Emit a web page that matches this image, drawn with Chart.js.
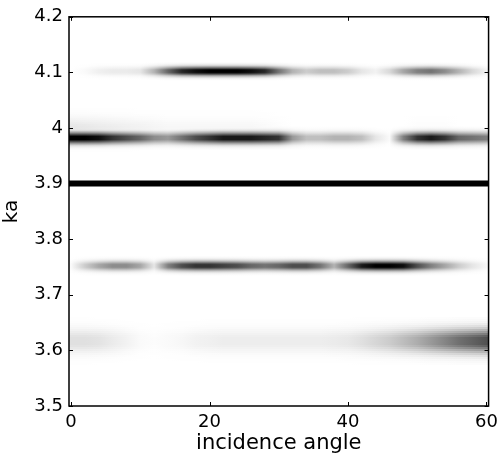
<!DOCTYPE html>
<html>
<head>
<meta charset="utf-8">
<script src="https://cdn.jsdelivr.net/npm/chart.js@4.4.0/dist/chart.umd.min.js"></script>
<style>
  html, body { margin: 0; padding: 0; background: #fff; }
  #wrap { width: 504px; height: 461px; }
</style>
</head>
<body>
<div id="wrap"><canvas id="chart"></canvas></div>
<script>
var angles = [0, 2, 4, 6, 8, 10, 12, 14, 16, 18, 20, 22, 24, 26, 28, 30,
              32, 34, 36, 38, 40, 42, 44, 46, 48, 50, 52, 54, 56, 58, 60];
var xTicks = [0, 20, 40, 60];
var yTicks = [3.5, 3.6, 3.7, 3.8, 3.9, 4, 4.1, 4.2];

// ka position of each band
var kaLevels = [4.102, 3.982, 3.752, 3.617, 3.997];
var kaLine = 3.9;

// darkness (0 = white, 1 = black) along each band
var band410 = [0, 0.02, 0.06, 0.08, 0.08, 0.1, 0.3, 0.6, 0.85, 0.95, 1, 1, 1, 0.95, 0.85, 0.55,
               0.3, 0.2, 0.25, 0.25, 0.2, 0.1, 0.05, 0.15, 0.35, 0.5, 0.55, 0.45, 0.3, 0.15, 0.05];
var band398 = [1, 1, 0.95, 0.8, 0.7, 0.6, 0.45, 0.4, 0.55, 0.7, 0.8, 0.9, 0.9, 0.9, 0.85, 0.8,
               0.4, 0.25, 0.25, 0.3, 0.3, 0.25, 0.1, 0.02, 0.5, 0.8, 0.9, 0.8, 0.6, 0.55, 0.5];
var band375 = [0.02, 0.2, 0.35, 0.45, 0.45, 0.35, 0.1, 0.5, 0.7, 0.8, 0.8, 0.75, 0.7, 0.6, 0.55, 0.6,
               0.7, 0.7, 0.55, 0.3, 0.6, 0.9, 1, 1, 0.95, 0.7, 0.5, 0.35, 0.2, 0.1, 0.03];
var band362 = [0.12, 0.12, 0.11, 0.08, 0.05, 0.02, 0.01, 0.02, 0.03, 0.05, 0.06, 0.07, 0.07, 0.07, 0.07, 0.07,
               0.07, 0.07, 0.07, 0.08, 0.09, 0.12, 0.16, 0.2, 0.26, 0.32, 0.4, 0.48, 0.56, 0.62, 0.68];
// faint haze above the 3.98 band
var haze400 = [0.1, 0.09, 0.08, 0.07, 0.06, 0.05, 0.04, 0.03, 0.03, 0.03, 0.03, 0.03, 0.03, 0.03, 0.02, 0.01,
               0, 0, 0, 0, 0, 0, 0, 0, 0, 0.01, 0.01, 0.01, 0, 0, 0];

var X_MIN = -0.3, X_MAX = 60.3;

// gaussian cross-section built from nested strokes, widest first
var layers = [];
for (var k = 0; k < 12; k++)
{
    var h = 3 * (1 - k / 12);
    var m = Math.max(0, h - 0.125);
    layers.push({ h: h, f: Math.min(1, 1.1 * Math.exp(-m * m / 2)) });
}

function shade(d) {
    d = Math.max(0, Math.min(1, d));
    var g = Math.round(255 * (1 - d));
    return 'rgb(' + g + ',' + g + ',' + g + ')';
}

var bands = [
    { y: kaLevels[4], vals: haze400, sigma: 8 },
    { y: kaLevels[0], vals: band410, sigma: 3 },
    { y: kaLevels[1], vals: band398, sigma: 3.8 },
    { y: kaLevels[2], vals: band375, sigma: 3.2 },
    { y: kaLevels[3], vals: band362, sigma: 8 }
];

var datasets = [];

bands.forEach(function(b, bi) {
    var vals = b.vals;
    var pts = [{ x: X_MIN, y: b.y, v: vals[0] }];
    for (var i = 0; i < angles.length; i++)
    {
        pts.push({ x: angles[i], y: b.y, v: vals[i] });
    }
    pts.push({ x: X_MAX, y: b.y, v: vals[vals.length - 1] });

    layers.forEach(function(l, k) {
        datasets.push({
            data: pts,
            borderWidth: 2 * l.h * b.sigma,
            borderColor: function(ctx) {
                var chart = ctx.chart, xs = chart.scales.x;
                if (!chart.chartArea || !xs) return '#fff';
                var x0 = xs.getPixelForValue(X_MIN), x1 = xs.getPixelForValue(X_MAX);
                var g = chart.ctx.createLinearGradient(x0, 0, x1, 0);
                pts.forEach(function(p) {
                    var t = (xs.getPixelForValue(p.x) - x0) / (x1 - x0);
                    g.addColorStop(Math.max(0, Math.min(1, t)), shade(p.v * l.f));
                });
                return g;
            },
            pointRadius: 0,
            tension: 0,
            order: 1000 - bi * 20 - k,
            clip: 0
        });
    });
});

datasets.push({
    data: [{ x: X_MIN, y: kaLine }, { x: X_MAX, y: kaLine }],
    borderWidth: 6,
    borderColor: '#000',
    pointRadius: 0,
    order: 0,
    clip: 0
});

// overlapping strokes keep the darker value, like one intensity image
var blendPlugin = {
    id: 'blend',
    beforeDatasetsDraw: function(chart) {
        chart.ctx.save();
        chart.ctx.globalCompositeOperation = 'darken';
    },
    afterDatasetsDraw: function(chart) {
        chart.ctx.restore();
    }
};

var framePlugin = {
    id: 'frame',
    afterDatasetsDraw: function(chart) {
        var c = chart.ctx, a = chart.chartArea;
        var xs = chart.scales.x, ys = chart.scales.y;
        c.save();
        c.strokeStyle = '#000';
        c.lineWidth = 1.5;
        c.strokeRect(a.left, a.top, a.right - a.left, a.bottom - a.top);
        c.lineWidth = 1;
        c.beginPath();
        yTicks.forEach(function(v) {
            var p = Math.round(ys.getPixelForValue(v)) + 0.5;
            c.moveTo(a.left, p); c.lineTo(a.left + 4, p);
            c.moveTo(a.right, p); c.lineTo(a.right - 4, p);
        });
        xTicks.forEach(function(v) {
            var p = Math.round(xs.getPixelForValue(v)) + 0.5;
            c.moveTo(p, a.bottom); c.lineTo(p, a.bottom - 4);
            c.moveTo(p, a.top); c.lineTo(p, a.top + 4);
        });
        c.stroke();
        c.restore();
    }
};

var font = 'DejaVu Sans, sans-serif';

new Chart(
    document.getElementById('chart'),
    {
        type: 'line',
        data: { datasets: datasets },
        plugins: [blendPlugin, framePlugin],
        options: {
            responsive: true,
            maintainAspectRatio: false,
            animation: false,
            events: [],
            layout: { padding: { top: 14, right: 11, left: 0, bottom: 0 } },
            plugins: {
                legend: { display: false },
                tooltip: { enabled: false }
            },
            scales: {
                x: {
                    type: 'linear',
                    min: X_MIN,
                    max: X_MAX,
                    afterBuildTicks: function(s) { s.ticks = xTicks.map(function(v) { return { value: v }; }); },
                    afterFit: function(s) { s.height = 55; },
                    grid: { display: false, drawTicks: false },
                    border: { display: false },
                    ticks: {
                        padding: 6,
                        maxRotation: 0,
                        color: '#000',
                        font: { family: font, size: 18 }
                    },
                    title: {
                        display: true,
                        text: 'incidence angle',
                        color: '#000',
                        font: { family: font, size: 21 },
                        padding: { top: 0, bottom: 5 }
                    }
                },
                y: {
                    type: 'linear',
                    min: 3.5,
                    max: 4.2,
                    afterBuildTicks: function(s) { s.ticks = yTicks.map(function(v) { return { value: v }; }); },
                    afterFit: function(s) { s.width = 69; },
                    grid: { display: false, drawTicks: false },
                    border: { display: false },
                    ticks: {
                        padding: 6,
                        color: '#000',
                        font: { family: font, size: 18 },
                        callback: function(v) { return String(Math.round(v * 10) / 10); }
                    },
                    title: {
                        display: true,
                        text: 'ka',
                        color: '#000',
                        font: { family: font, size: 20 },
                        padding: { top: 0, bottom: 0 }
                    }
                }
            }
        }
    }
);
</script>
</body>
</html>
